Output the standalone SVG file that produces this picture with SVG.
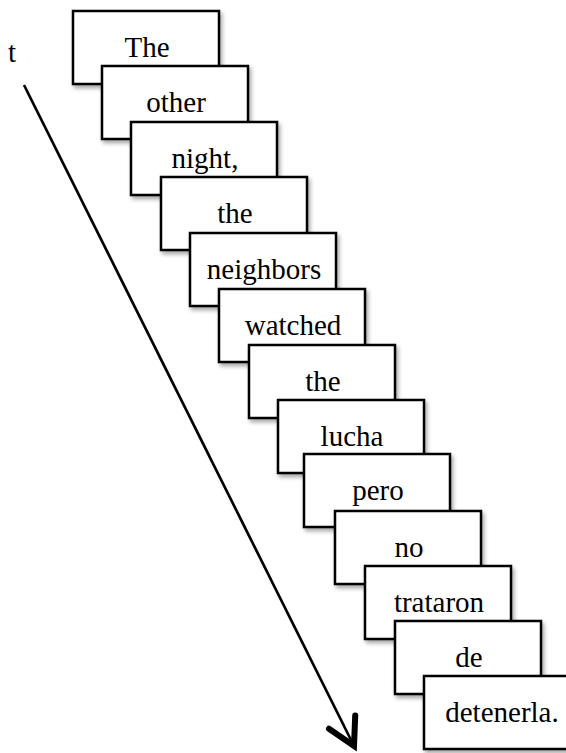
<svg xmlns="http://www.w3.org/2000/svg" width="566" height="753" viewBox="0 0 566 753">
<defs>
<filter id="sh" x="-10%" y="-10%" width="130%" height="140%">
<feGaussianBlur in="SourceAlpha" stdDeviation="2"/>
<feOffset dx="2" dy="3" result="b"/>
<feComponentTransfer><feFuncA type="linear" slope="0.35"/></feComponentTransfer>
<feMerge><feMergeNode/><feMergeNode in="SourceGraphic"/></feMerge>
</filter>
<marker id="arr" markerUnits="userSpaceOnUse" markerWidth="40" markerHeight="40" viewBox="-25 -15 30 30" refX="0" refY="0" orient="auto" overflow="visible">
<path d="M-20,-11 L0,0 L-20,11" fill="none" stroke="#000" stroke-width="4.5" stroke-linecap="round" stroke-linejoin="miter"/>
</marker>
</defs>
<style>
.box{fill:#fff;stroke:#000;stroke-width:2.5;filter:url(#sh)}
.lbl{font-family:"Liberation Serif","Times New Roman",serif;font-size:29px;fill:#000;text-anchor:middle}
</style>
<rect width="566" height="753" fill="#fff"/>
<g id="connectors">
<line x1="24" y1="85" x2="354" y2="746" stroke="#000" stroke-width="2.7" marker-end="url(#arr)"/>
<text class="lbl" x="12" y="62">t</text>
</g>
<g id="n1"><rect class="box" x="73" y="11" width="146" height="73"/><text class="lbl" x="147" y="57">The</text></g>
<g id="n2"><rect class="box" x="102" y="66" width="146" height="73"/><text class="lbl" x="176" y="112">other</text></g>
<g id="n3"><rect class="box" x="131" y="122" width="146" height="73"/><text class="lbl" x="205" y="168">night,</text></g>
<g id="n4"><rect class="box" x="161" y="177" width="146" height="73"/><text class="lbl" x="235" y="223">the</text></g>
<g id="n5"><rect class="box" x="190" y="233" width="146" height="73"/><text class="lbl" x="264" y="279">neighbors</text></g>
<g id="n6"><rect class="box" x="219" y="289" width="146" height="73"/><text class="lbl" x="293" y="335">watched</text></g>
<g id="n7"><rect class="box" x="249" y="345" width="146" height="73"/><text class="lbl" x="323" y="391">the</text></g>
<g id="n8"><rect class="box" x="278" y="400" width="146" height="73"/><text class="lbl" x="352" y="446">lucha</text></g>
<g id="n9"><rect class="box" x="304" y="454" width="146" height="73"/><text class="lbl" x="378" y="500">pero</text></g>
<g id="n10"><rect class="box" x="335" y="511" width="146" height="73"/><text class="lbl" x="409" y="557">no</text></g>
<g id="n11"><rect class="box" x="365" y="566" width="146" height="73"/><text class="lbl" x="439" y="612">trataron</text></g>
<g id="n12"><rect class="box" x="395" y="621" width="146" height="73"/><text class="lbl" x="469" y="667">de</text></g>
<g id="n13"><rect class="box" x="424" y="676" width="146" height="73"/><text class="lbl" x="502" y="722">detenerla.</text></g>
</svg>
